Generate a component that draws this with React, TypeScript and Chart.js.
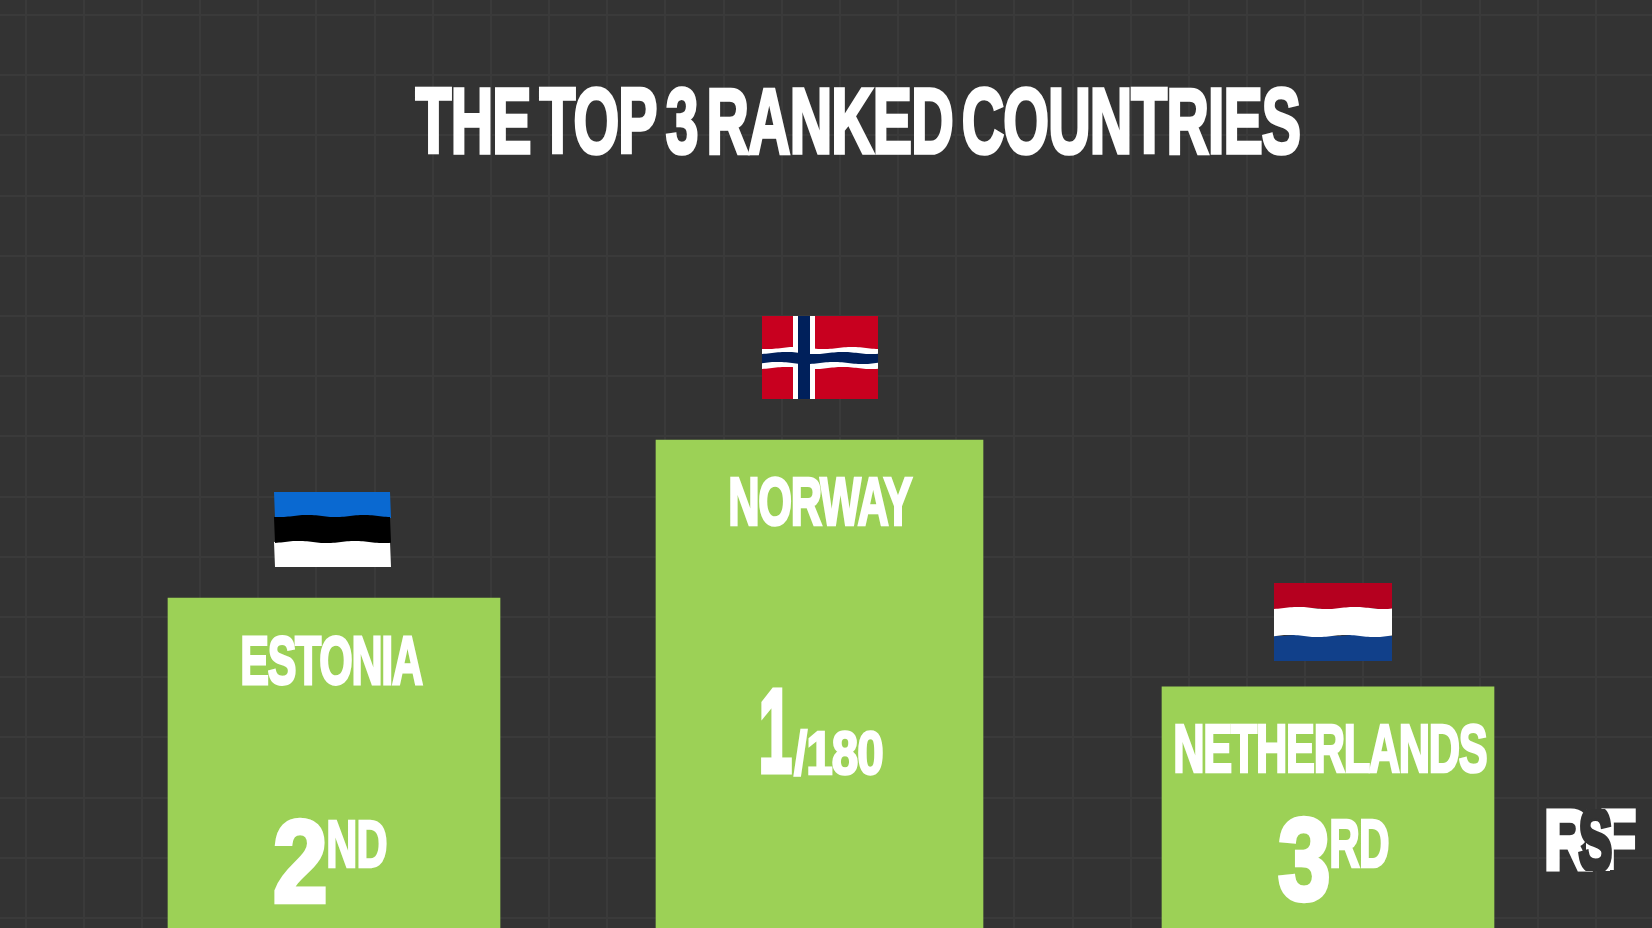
import React, { useEffect, useRef } from "react";
import { Chart, CategoryScale, registerables } from "chart.js";

Chart.register(...registerables);

const WIDTH = 1652;
const HEIGHT = 928;

const categories = ["Estonia", "Norway", "Netherlands"];
const barLevels = [67.6, 100, 49.4];
const rankNumbers = ["2", "1", "3"];
const rankSuffixes = ["ND", "/180", "RD"];
const titleText = "THE TOP 3 RANKED COUNTRIES";
const logoLetters = ["R", "F", "S"];

const BG = "#333333";
const GRID = "#3a3a3a";
const GREEN = "#9cd156";
const DISPLAY_FONT = '"Liberation Sans Narrow", "Liberation Sans", sans-serif';

// Layout only (pixels on the 1652x928 page)
const barCentres = [334, 819.5, 1328];
const barWidths = [332, 327, 332];
const pxPerUnit = 4.88;
const gridXPx = Array.from({ length: 27 }, (_, k) => 25 + 60.4 * k);
const gridYPx = Array.from({ length: 16 }, (_, k) => 15 + 60.2 * k);

type Box = [number, number, number, number]; // x0, x1, top, bottom
const titleBox: Box = [415, 1300, 87, 156];
const nameBoxes: Box[] = [
  [242, 423, 634, 686],
  [730, 913, 476, 527],
  [1175, 1487, 723, 774],
];
const numberBoxes: Box[] = [
  [274, 326, 817, 904],
  [761, 792, 687, 774],
  [1278, 1329, 816, 904],
];
const suffixBoxes: Box[] = [
  [328, 387, 818, 868],
  [793, 883, 727, 776],
  [1331, 1389, 818, 868],
];
const logoBoxes: Box[] = [
  [1546, 1592, 809, 871],
  [1601, 1636, 809, 871],
  [1578, 1612, 806, 874],
];

class PlacedCategoryScale extends CategoryScale {
  static id = "placedCategory";
  static defaults = CategoryScale.defaults;
  getPixelForValue(value: any) {
    const i = typeof value === "number" ? value : (this as any).parse(value);
    return (this as any).left + (barCentres[i] / WIDTH) * (this as any).width;
  }
}
Chart.register(PlacedCategoryScale as any);

function fitText(
  ctx: CanvasRenderingContext2D,
  text: string,
  box: Box,
  weight = 3,
  spacing = -2,
  wordGap = 0,
  color = "#ffffff",
) {
  const [x0, x1, top, bottom] = box;
  ctx.save();
  ctx.font = `bold 100px ${DISPLAY_FONT}`;
  (ctx as any).letterSpacing = `${spacing}px`;
  (ctx as any).wordSpacing = `${wordGap}px`;
  ctx.textAlign = "left";
  ctx.textBaseline = "alphabetic";
  const m = ctx.measureText(text);
  const w = m.actualBoundingBoxLeft + m.actualBoundingBoxRight + weight;
  const h = m.actualBoundingBoxAscent + m.actualBoundingBoxDescent + weight;
  const sx = (x1 - x0) / w;
  const sy = (bottom - top) / h;
  ctx.translate(x0 + (m.actualBoundingBoxLeft + weight / 2) * sx, bottom - (m.actualBoundingBoxDescent + weight / 2) * sy);
  ctx.scale(sx, sy);
  ctx.fillStyle = color;
  ctx.strokeStyle = color;
  ctx.lineWidth = weight;
  ctx.lineJoin = "miter";
  ctx.strokeText(text, 0, 0);
  ctx.fillText(text, 0, 0);
  ctx.restore();
}

function wavyBand(
  ctx: CanvasRenderingContext2D,
  x0: number,
  x1: number,
  top: number,
  bottom: number,
  color: string,
  phase: number,
  waveTop = true,
  waveBottom = true,
) {
  const edge = (x: number, y: number, p: number, on: boolean) =>
    on ? y + 1.1 * Math.sin((x - x0) / 9 + p) : y;
  ctx.beginPath();
  for (let x = x0; x <= x1; x += 2) ctx.lineTo(x, edge(x, top, phase, waveTop));
  for (let x = x1; x >= x0; x -= 2) ctx.lineTo(x, edge(x, bottom, phase + 1, waveBottom));
  ctx.closePath();
  ctx.fillStyle = color;
  ctx.fill();
}

function drawFlags(ctx: CanvasRenderingContext2D) {
  // Estonia
  wavyBand(ctx, 274, 391, 492, 517, "#0a69d1", 0, false, true);
  wavyBand(ctx, 274, 391, 541, 567, "#ffffff", 2, true, false);
  wavyBand(ctx, 274, 391, 516, 542, "#000000", 1);
  // Netherlands
  wavyBand(ctx, 1274, 1392, 583, 609, "#b5001f", 0, false, true);
  wavyBand(ctx, 1274, 1392, 635, 661, "#11408a", 1, true, false);
  wavyBand(ctx, 1274, 1392, 608, 636, "#ffffff", 2);
  // Norway
  wavyBand(ctx, 762, 878, 316, 399, "#c8001f", 0, false, false);
  wavyBand(ctx, 762, 878, 348, 368, "#ffffff", 1);
  ctx.fillStyle = "#ffffff";
  ctx.fillRect(793, 316, 22, 83);
  wavyBand(ctx, 762, 878, 353, 363, "#00205b", 2);
  ctx.fillStyle = "#00205b";
  ctx.fillRect(798, 316, 12, 83);
}

const overlayPlugin = {
  id: "overlay",
  afterDatasetsDraw(chart: any) {
    const ctx = chart.ctx as CanvasRenderingContext2D;
    fitText(ctx, titleText, titleBox, 4, -1.5, -11);
    drawFlags(ctx);
    categories.forEach((name, i) => {
      fitText(ctx, name.toUpperCase(), nameBoxes[i], 4, -3);
      fitText(ctx, rankNumbers[i], numberBoxes[i], 4, 0);
      fitText(ctx, rankSuffixes[i], suffixBoxes[i], 4, -2);
    });
    // logo: white R and F joined by a white block, with a dark S cut through it
    fitText(ctx, logoLetters[0], logoBoxes[0], 6, 0);
    fitText(ctx, logoLetters[1], logoBoxes[1], 6, 0);
    ctx.fillStyle = "#ffffff";
    ctx.fillRect(1586, 809, 24, 62);
    ctx.save();
    ctx.beginPath();
    ctx.rect(1570, 809, 50, 62);
    ctx.clip();
    fitText(ctx, logoLetters[2], logoBoxes[2], 7, 0, 0, BG);
    ctx.restore();
  },
};

export default function App() {
  const ref = useRef<HTMLCanvasElement>(null);
  useEffect(() => {
    const chart = new Chart(ref.current!, {
      type: "bar",
      data: {
        labels: categories,
        datasets: categories.map((c, i) => ({
          label: c,
          data: categories.map((_, j) => (j === i ? barLevels[i] : null)),
          backgroundColor: GREEN,
          barThickness: barWidths[i],
          grouped: false,
          xAxisID: "x",
          yAxisID: "y",
        })),
      } as any,
      options: {
        responsive: false,
        animation: false,
        layout: { padding: 0 },
        plugins: { legend: { display: false }, tooltip: { enabled: false }, title: { display: false } },
        scales: {
          x: { type: "placedCategory", display: false, offset: true },
          gridX: {
            type: "linear",
            axis: "x",
            position: "bottom",
            min: 0,
            max: WIDTH,
            border: { display: false },
            grid: { color: GRID, lineWidth: 2, drawTicks: false },
            ticks: { display: false, autoSkip: false },
            afterBuildTicks(a: any) {
              a.ticks = gridXPx.map((value) => ({ value }));
            },
          },
          y: {
            type: "linear",
            min: 0,
            max: HEIGHT / pxPerUnit,
            border: { display: false },
            grid: { color: GRID, lineWidth: 2, drawTicks: false },
            ticks: { display: false, autoSkip: false },
            afterBuildTicks(a: any) {
              a.ticks = gridYPx.map((p) => ({ value: (HEIGHT - p) / pxPerUnit }));
            },
          },
        },
      } as any,
      plugins: [overlayPlugin],
    });
    return () => chart.destroy();
  }, []);
  return (
    <div style={{ position: "fixed", left: 0, top: 0, width: WIDTH, height: HEIGHT, background: BG, overflow: "hidden" }}>
      <canvas ref={ref} width={WIDTH} height={HEIGHT} style={{ display: "block", filter: "blur(0.7px)" }} />
    </div>
  );
}
